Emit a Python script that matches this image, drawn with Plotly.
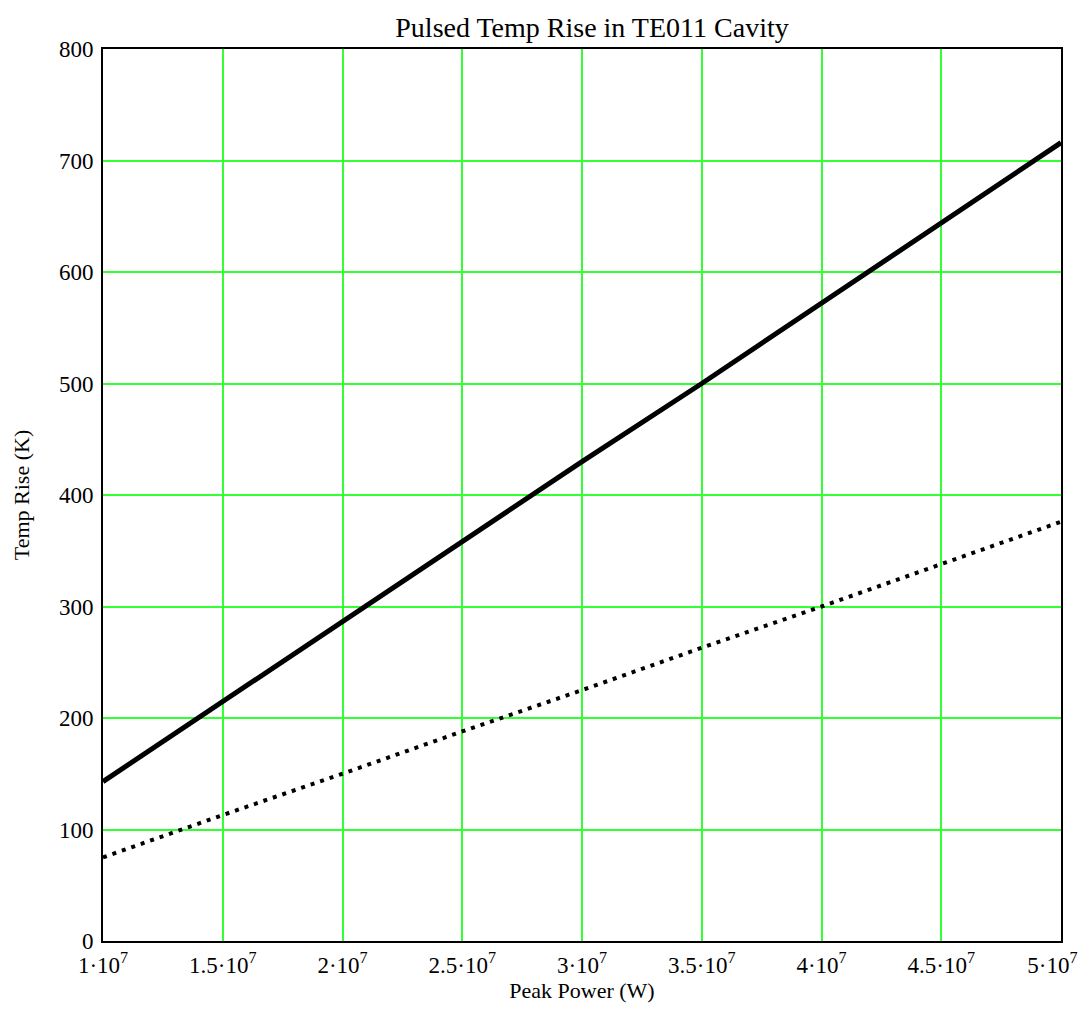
import plotly.graph_objects as go

power = [1e7, 1.5e7, 2e7, 2.5e7, 3e7, 3.5e7, 4e7, 4.5e7, 5e7]
temp_solid = [143, 215, 286, 358, 430, 500, 572, 644, 716]
temp_dotted = [75, 113, 150, 188, 225, 263, 300, 338, 376]

xtick_vals = [1e7, 1.5e7, 2e7, 2.5e7, 3e7, 3.5e7, 4e7, 4.5e7, 5e7]
xtick_text = ["1·10<sup>7</sup>", "1.5·10<sup>7</sup>", "2·10<sup>7</sup>", "2.5·10<sup>7</sup>",
              "3·10<sup>7</sup>", "3.5·10<sup>7</sup>", "4·10<sup>7</sup>", "4.5·10<sup>7</sup>",
              "5·10<sup>7</sup>&nbsp;&nbsp;&nbsp;"]
ytick_vals = [0, 100, 200, 300, 400, 500, 600, 700, 800]

font = "Liberation Serif, Times New Roman, serif"

L, T, PW, PH = 95, 41, 958, 892
W, H = 1087, 1013

fig = go.Figure()
fig.add_trace(go.Scatter(x=power, y=temp_solid, mode="lines",
                         line=dict(color="black", width=5), showlegend=False))
fig.add_trace(go.Scatter(x=power, y=temp_dotted, mode="lines",
                         line=dict(color="black", width=4, dash="4px,6px"), showlegend=False))

fig.update_layout(
    width=W, height=H,
    margin=dict(l=L, r=W - L - PW, t=T, b=H - T - PH, autoexpand=False),
    paper_bgcolor="white", plot_bgcolor="white",
    font=dict(family=font, color="black", size=23),
    title=dict(text="Pulsed Temp Rise in TE011 Cavity", x=584 / W, xanchor="center",
               y=1 - 19 / H, yanchor="middle", font=dict(size=28, family=font)),
    xaxis=dict(range=[1e7, 5e7], tickvals=xtick_vals, ticktext=xtick_text,
               showgrid=True, gridcolor="#33ff33", gridwidth=1.5,
               showline=True, linecolor="black", linewidth=2, mirror=True,
               ticks="", zeroline=False, automargin=False, ticklabelstandoff=2,
               tickfont=dict(size=23, family=font),
               title=dict(text="Peak Power (W)", font=dict(size=22, family=font), standoff=2)),
    yaxis=dict(range=[0, 800], tickvals=ytick_vals,
               showgrid=True, gridcolor="#33ff33", gridwidth=1.5,
               showline=True, linecolor="black", linewidth=2, mirror=True,
               ticks="", zeroline=False, automargin=False, ticklabelstandoff=3,
               tickfont=dict(size=23, family=font),
               title=dict(text="Temp Rise (K)", font=dict(size=22, family=font), standoff=23)),
)

fig.write_html("out.html")
